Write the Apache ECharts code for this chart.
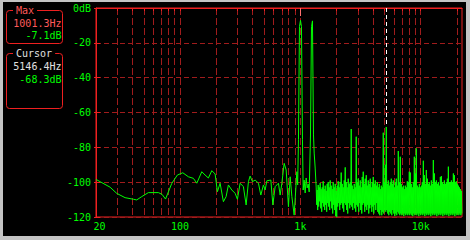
<!DOCTYPE html>
<html><head><meta charset="utf-8">
<script src="https://cdn.jsdelivr.net/npm/echarts@6/dist/echarts.min.js"></script>
<style>
html,body{margin:0;padding:0;background:#000;overflow:hidden;}
#c{position:absolute;left:0;top:0;width:470px;height:240px;}
#frame{position:absolute;left:0;top:0;width:463px;height:234px;border-style:solid;border-color:#c4c4c4;border-width:2px 4px 4px 3px;pointer-events:none;}
</style></head><body>
<div id="c"></div><div id="frame"></div>
<script>
// ---- data ----
const xLabelValues = [20, 100, 1000, 10000];
const gridFreqs = [30,40,50,60,70,80,90,100,200,300,400,500,600,700,800,900,1000,2000,3000,4000,5000,6000,7000,8000,9000,10000,20000];
const yTicks = [0, -20, -40, -60, -80, -100, -120];

const maxHz = 1001.3, maxDb = -7.1;
const cursorHz = 5146.4, cursorDb = -68.3;

// low / mid frequency trace (Hz, dB)
const lowFreq = [20.0, 21.6, 26.2, 29.7, 34.9, 40.9, 43.6, 48.0, 54.5, 66.0, 70.8, 75.7, 85.3, 95.0, 105.3, 117.2, 129.0, 137.7, 151.5, 161.3, 171.9, 183.5, 195.5, 204.3, 215.1, 229.1, 241.3, 252.1, 269.1, 286.7, 299.6, 315.5, 336.1, 354.0, 369.9, 382.2, 399.4, 420.6, 448.0, 469.0, 493.0, 509.3, 526.2, 568.1, 590.3, 616.9, 657.1, 678.9, 701.4, 733.0, 761.6, 795.9, 822.2, 849.5, 887.7, 934.8, 949.3, 964.0, 982.5, 1001.3, 1021, 1040.6, 1054.7, 1075.1, 1095.9, 1117.2, 1138.8, 1160.8, 1183.3, 1213, 1237, 1260, 1285, 1302.2, 1327.4];
const lowDb = [-98.4, -99.7, -102.9, -106.4, -108.9, -109.8, -110.2, -108.3, -106.0, -106.0, -107.0, -109.7, -100.7, -95.9, -94.6, -96.9, -97.8, -100.6, -94.0, -95.9, -97.6, -93.4, -95.3, -105.5, -100.6, -111.2, -108.3, -101.6, -104.5, -106.4, -109.8, -100.6, -102.6, -113.1, -99.7, -96.5, -99.7, -98.8, -100.6, -107.4, -101.6, -104.5, -99.2, -98.8, -113.1, -102.6, -100.6, -107.4, -100.6, -89.2, -93.0, -114.1, -96.9, -108.3, -118.9, -94.0, -101.6, -75.4, -10.7, -7.1, -10.7, -75.4, -104.5, -98.8, -106.2, -97.6, -103.3, -101.1, -105.6, -73.5, -10.7, -7.4, -72.9, -83.3, -91.9];

// dense high-frequency bins: per bin a high and a low reading (dB), bins evenly spaced on log scale
const hfStartHz = 1353, hfEndHz = 22000;
const hfHi = [
 -102.8,-104.5,-101.6,-103.0,-100.5,-104.0,-103.0,-99.5,-104.0,-102.0,
 -105,-101,-100,-103,-99,-102,-104,-100,-103,-101,
 -105,-102,-99.5,-103,-100,-94.5,-101,-103,-99,-91.5,
 -100,-103,-98,-101,-100,-69.5,-102,-104,-101,-103,
 -73.9,-100,-98,-102,-99,-103,-97,-94,-101,-98,
 -96,-102,-99,-101,-98,-103,-100,-97,-101,-99,
 -102,-100,-103,-101,-104,-102,-103,-71.6,-100,-90,
 -68.3,-101,-99,-102,-100,-98,-101,-99,-103,-100,
 -98,-102,-82.1,-100,-85.4,-101,-103,-102,-104,-102,
 -103,-99.5,-100,-94,-94.5,-101,-103,-100,-85.4,-95,
 -80.6,-102,-103,-101,-103,-102,-100,-87.7,-96,-101,
 -93,-98,-101,-100,-102,-99,-101,-87.3,-95,-100,
 -99,-101,-100,-102,-97,-96.5,-100,-101,-99,-101,
 -100,-98,-91.1,-100,-99.9,-99,-100,-95,-96,-100,
 -99.5,-101,-102,-103,-104,-105
];
const hfLo = [
 -113,-116,-114,-111,-115,-117,-112,-114,-116,-113,
 -117,-112,-114,-116,-111,-115,-118,-113,-116,-119.5,
 -120,-114,-112,-116,-113,-112,-115,-117,-112,-113,
 -116,-118,-112,-115,-113,-114,-116,-112,-115,-117,
 -113,-114,-117,-112,-116,-118,-113,-112,-117,-114,
 -116,-113,-118,-115,-113,-117,-114,-118,-113,-116,
 -112,-117,-118,-119,-116,-119,-117,-118,-116,-117,
 -116,-118,-119,-117,-118,-119,-116,-118,-119.5,-118,
 -119,-117,-118,-119,-118,-119,-118,-119.5,-118,-119,
 -118,-119,-118,-119,-118,-119,-119.5,-118,-119,-118,
 -119,-118,-119.5,-118,-119,-118,-119,-118,-119.5,-118,
 -119,-118,-119,-118,-119.5,-118,-119,-118,-119,-118,
 -119.5,-118,-119,-118,-119,-118,-119.5,-118,-119,-118,
 -119,-118,-119.5,-118,-119,-118,-119,-118,-119.5,-118,
 -119,-118,-119,-118,-119,-118
];

// ---- build ----
const FONT = 'DejaVu Sans Mono';
const RED = '#ee2020';
const GRID = '#a01c1c';
const GREEN = '#00ff00';

const lineData = [];
lowFreq.forEach((f, i) => lineData.push([f, lowDb[i]]));
const la = Math.log10(hfStartHz), lb = Math.log10(hfEndHz), n = hfHi.length * 2;
hfHi.forEach((v, i) => {
  lineData.push([Math.pow(10, la + (2 * i) / (n - 1) * (lb - la)), v]);
  lineData.push([Math.pow(10, la + (2 * i + 1) / (n - 1) * (lb - la)), hfLo[i]]);
});

const chart = echarts.init(document.getElementById('c'), null, {renderer: 'svg', width: 470, height: 240});

const txt = (t, x, y, color, align, bg) => ({
  type: 'text', x: x, y: y, z: 100,
  style: Object.assign({text: t, fill: color, font: '10px "' + FONT + '"', align: align, verticalAlign: 'middle'},
    bg ? {backgroundColor: '#000', padding: [0, 3]} : {})
});

chart.setOption({
  backgroundColor: '#000',
  animation: false,
  grid: {left: 96, right: 8, top: 8, bottom: 23, show: true, borderColor: RED, borderWidth: 1, backgroundColor: 'transparent'},
  xAxis: {
    type: 'log', logBase: 10, min: 20, max: 22050,
    axisLine: {show: true, lineStyle: {color: RED}},
    axisTick: {show: true, length: 3, lineStyle: {color: RED}, customValues: gridFreqs},
    splitLine: {show: true, lineStyle: {color: GRID, type: [7, 3], width: 1}},
    axisLabel: {
      color: GREEN, fontFamily: FONT, fontSize: 10, margin: 4, showMaxLabel: false,
      formatter: v => (v === 20 ? '{m|20}' : (v >= 1000 ? (v / 1000) + 'k' : String(v))),
      rich: {m: {color: GREEN, fontFamily: FONT, fontSize: 10, padding: [0, 0, 0, 7]}}
    }
  },
  yAxis: [{
    type: 'value', min: -120, max: 0, interval: 20,
    axisLine: {show: true, lineStyle: {color: RED}},
    axisTick: {show: true, length: 2, lineStyle: {color: RED}},
    splitLine: {show: true, lineStyle: {color: GRID, type: [5, 3], width: 1}},
    axisLabel: {color: GREEN, fontFamily: FONT, fontSize: 10, margin: 5, formatter: v => (v === 0 ? '0dB' : String(v))}
  }, {
    type: 'value', min: -120, max: 0, interval: 20, position: 'left',
    axisLine: {show: false},
    axisTick: {show: true, inside: true, length: 4, lineStyle: {color: RED}},
    axisLabel: {show: false}, splitLine: {show: false}
  }],
  series: [{
    type: 'line', data: lineData, yAxisIndex: 0, showSymbol: false, symbol: 'none',
    lineStyle: {color: GREEN, width: 1}, itemStyle: {color: GREEN}, z: 3,
    silent: true, emphasis: {disabled: true}, clip: true,
    markLine: {
      silent: true, symbol: ['none', 'none'], label: {show: false}, emphasis: {disabled: true},
      data: [
        [{coord: [maxHz, 0], lineStyle: {color: '#ff7070', type: 'solid', width: 1}}, {coord: [maxHz, -4.6]}],
        [{coord: [cursorHz, 0], lineStyle: {color: '#ffffff', type: [4, 3], width: 1}}, {coord: [cursorHz, cursorDb]}]
      ]
    }
  }],
  graphic: {elements: [
    {type: 'rect', shape: {x: 6.5, y: 10.5, width: 56, height: 33, r: 3}, style: {fill: 'none', stroke: RED, lineWidth: 1}},
    {type: 'rect', shape: {x: 6.5, y: 53.5, width: 56, height: 55, r: 3}, style: {fill: 'none', stroke: RED, lineWidth: 1}},
    txt('Max', 13, 10.5, '#ff5a5a', 'left', true),
    txt(maxHz.toFixed(1) + 'Hz', 61.5, 23.5, '#ff5a5a', 'right'),
    txt(maxDb.toFixed(1) + 'dB', 61.5, 35.5, GREEN, 'right'),
    txt('Cursor', 13, 53.5, '#e0e0e0', 'left', true),
    txt(cursorHz.toFixed(1) + 'Hz', 61.5, 66.5, '#e0e0e0', 'right'),
    txt(cursorDb.toFixed(1) + 'dB', 61.5, 79.5, GREEN, 'right')
  ]}
});
</script></body></html>
